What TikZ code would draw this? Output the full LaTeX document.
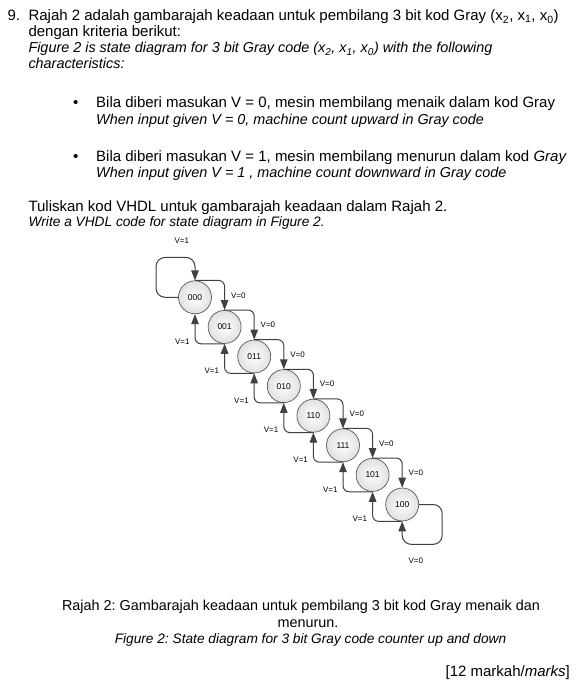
\documentclass[tikz,border=0pt]{standalone}
\usepackage{fontspec}
\setmainfont{Liberation Sans}
\usetikzlibrary{arrows.meta, calc}
\frenchspacing

\begin{document}
\begin{tikzpicture}[x=1pt, y=-1pt, >={Triangle[length=10pt, width=7.5pt]},
        state/.style={circle, draw=black!65, line width=0.7pt, minimum size=33pt, inner sep=0pt,
            inner color=white, outer color=black!12, font=\fontsize{8.5}{9}\selectfont},
        trans/.style={->, draw=black!75, line width=1pt, rounded corners=6pt},
        lbl/.style={inner sep=1pt, font=\fontsize{8}{9}\selectfont},
        txt/.style={anchor=base west, inner sep=0pt, font=\fontsize{15}{16}\selectfont},
        itxt/.style={txt, font=\fontsize{14.4}{16}\selectfont\itshape},
        stxt/.style={txt, font=\fontsize{13.7}{15}\selectfont\itshape}]
    \path[fill=white, use as bounding box] (0, 0) rectangle (584, 690);
    % question text
    \node[txt] (qnum) at (7.3, 20.7) {9.};
    \node[txt] (qa) at (28.3, 20.7) {Rajah 2 adalah gambarajah keadaan untuk pembilang 3 bit kod Gray (x\textsubscript{2}, x\textsubscript{1}, x\textsubscript{0})};
    \node[txt] (qb) at (28.3, 36.3) {dengan kriteria berikut:};
    \node[itxt] (qc) at (28.3, 53) {Figure 2 is state diagram for 3 bit Gray code (x\textsubscript{2}, x\textsubscript{1}, x\textsubscript{0}) with the following};
    \node[itxt] (qd) at (28.3, 69) {characteristics:};
    \node[txt] (ba) at (73, 107.7) {\textbullet};
    \node[txt] (bat) at (96, 107.7) {Bila diberi masukan V = 0, mesin membilang menaik dalam kod Gray};
    \node[itxt] (bae) at (96, 124.3) {When input given V = 0, machine count upward in Gray code};
    \node[txt] (bb) at (73, 161) {\textbullet};
    \node[txt] (bbt) at (96, 161) {Bila diberi masukan V = 1, mesin membilang menurun dalam kod \textit{Gray}};
    \node[itxt] (bbe) at (96, 177.3) {When input given V = 1 , machine count downward in Gray code};
    \node[txt] (wa) at (28.3, 211.7) {Tuliskan kod VHDL untuk gambarajah keadaan dalam Rajah 2.};
    \node[stxt] (we) at (28.3, 226.7) {Write a VHDL code for state diagram in Figure 2.};
    % states
    \foreach \c [count=\i from 0] in {000, 001, 011, 010, 110, 111, 101, 100} {
        \pgfmathsetmacro{\px}{195+29.6*\i}
        \pgfmathsetmacro{\py}{297.3+29.6*\i}
        \node[state] (s\i) at (\px, \py) {\c};
    };
    % up (V=0) and down (V=1)
    \foreach \i [evaluate=\i as \j using int(\i+1)] in {0, ..., 6} {
        \draw[trans] (s\i.north) -| (s\j.north) node[lbl, pos=0.75, right, xshift=5pt] {V=0};
        \draw[trans] (s\j.south) -| (s\i.south) node[lbl, pos=0.5, anchor=east, xshift=-4pt, yshift=2.5pt] {V=1};
    };
    \draw[trans, rounded corners=9pt] (s0.west) -| ($(s0.north)+(-39, -23)$) -| (s0.north)
        node[lbl, pos=0.33, above, yshift=12pt] {V=1};
    \draw[trans, rounded corners=9pt] (s7.east) -| ($(s7.south)+(40, 23)$) -| (s7.south)
        node[lbl, pos=0.33, below, yshift=-12pt] {V=0};
    % caption
    \node[txt, anchor=base, font=\fontsize{14.4}{16}\selectfont] (ca) at (301, 610) {Rajah 2: Gambarajah keadaan untuk pembilang 3 bit kod Gray menaik dan};
    \node[txt, anchor=base, font=\fontsize{14.4}{16}\selectfont] (cb) at (308, 627) {menurun.};
    \node[stxt, anchor=base] (ce) at (310.5, 643) {Figure 2: State diagram for 3 bit Gray code counter up and down};
    \node[txt, anchor=base east] (mk) at (570, 676) {[12 markah/\textit{marks}]};
\end{tikzpicture}
\end{document}
